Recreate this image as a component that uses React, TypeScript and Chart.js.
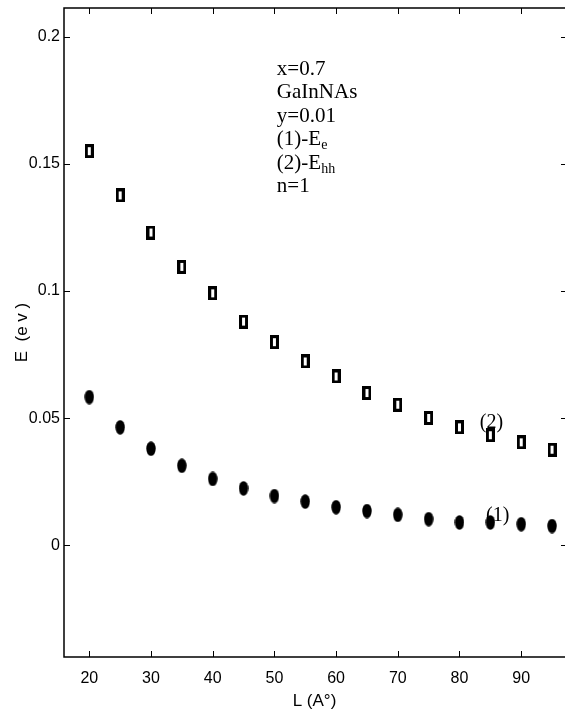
import { useEffect, useRef } from "react";
import { Chart, registerables } from "chart.js";

Chart.register(...registerables);

// ---- data ----
const L_VALUES = [20, 25, 30, 35, 40, 45, 50, 55, 60, 65, 70, 75, 80, 85, 90, 95];
const E_HH = [0.155, 0.1376, 0.123, 0.1095, 0.0991, 0.088, 0.0799, 0.0723, 0.0664, 0.0599, 0.0553, 0.0501, 0.0464, 0.0433, 0.0405, 0.0376];
const E_E = [0.0583, 0.0464, 0.038, 0.0313, 0.0261, 0.0224, 0.0194, 0.0172, 0.015, 0.0135, 0.012, 0.0103, 0.009, 0.009, 0.0083, 0.0076];
const X_TICKS = [20, 30, 40, 50, 60, 70, 80, 90];
const Y_TICKS = [0, 0.05, 0.1, 0.15, 0.2];
const Y_TICK_LABELS = ["0", "0.05", "0.1", "0.15", "0.2"];
const X_MIN = 15.9;
const X_MAX = 97.1;
const Y_MIN = -0.0439;
const Y_MAX = 0.2113;
const X_TITLE = "L (A°)";
const Y_TITLE = "E  (e v )";
const INFO_LINES: [string, string][] = [
  ["x=0.7", ""],
  ["GaInNAs", ""],
  ["y=0.01", ""],
  ["(1)-E", "e"],
  ["(2)-E", "hh"],
  ["n=1", ""],
];
const INFO_ANCHOR = { x: 50.4, y: 0.185 };
const CURVE_LABELS = [
  { text: "(2)", x: 83.3, y: 0.0462 },
  { text: "(1)", x: 84.3, y: 0.0096 },
];

const SANS = '"Liberation Sans", Arial, sans-serif';
const SERIF = '"Liberation Serif", "Times New Roman", serif';

function makeRectMarker(): HTMLCanvasElement {
  const c = document.createElement("canvas");
  c.width = 9;
  c.height = 14;
  const g = c.getContext("2d")!;
  g.fillStyle = "#000";
  g.fillRect(0, 0, 9, 14);
  g.fillStyle = "#fff";
  g.fillRect(3, 3, 3, 8);
  return c;
}

function makeEllipseMarker(): HTMLCanvasElement {
  const c = document.createElement("canvas");
  c.width = 10;
  c.height = 15;
  const g = c.getContext("2d")!;
  g.fillStyle = "#000";
  g.beginPath();
  g.ellipse(5, 7.5, 4.7, 7.3, 0, 0, Math.PI * 2);
  g.fill();
  return c;
}

const framePlugin = {
  id: "frameTicks",
  afterDraw(chart: any) {
    const { ctx, chartArea, scales } = chart;
    const { left, top, right, bottom } = chartArea;
    const xs = scales.x;
    const ys = scales.y;
    ctx.save();
    ctx.strokeStyle = "#000";
    ctx.lineWidth = 1.5;
    ctx.beginPath();
    ctx.moveTo(right, top);
    ctx.lineTo(left, top);
    ctx.lineTo(left, bottom);
    ctx.lineTo(right, bottom);
    ctx.stroke();
    ctx.lineWidth = 1;
    const tl = 6;
    ctx.beginPath();
    xs.ticks.forEach((t: any) => {
      const px = Math.round(xs.getPixelForValue(t.value)) + 0.5;
      ctx.moveTo(px, bottom);
      ctx.lineTo(px, bottom - tl);
      ctx.moveTo(px, top);
      ctx.lineTo(px, top + tl);
    });
    ys.ticks.forEach((t: any) => {
      const py = Math.round(ys.getPixelForValue(t.value)) + 0.5;
      ctx.moveTo(left, py);
      ctx.lineTo(left + tl, py);
      ctx.moveTo(right, py);
      ctx.lineTo(right - 4, py);
    });
    ctx.stroke();

    // info text
    ctx.fillStyle = "#000";
    ctx.textBaseline = "alphabetic";
    ctx.textAlign = "left";
    const ax = xs.getPixelForValue(INFO_ANCHOR.x);
    const ay = ys.getPixelForValue(INFO_ANCHOR.y);
    INFO_LINES.forEach(([main, sub], i) => {
      const by = ay + i * 23.5;
      ctx.font = `21px ${SERIF}`;
      ctx.fillText(main, ax, by);
      if (sub) {
        const w = ctx.measureText(main).width;
        ctx.font = `14px ${SERIF}`;
        ctx.fillText(sub, ax + w, by + 4);
      }
    });
    ctx.font = `20px ${SERIF}`;
    CURVE_LABELS.forEach((l) => {
      ctx.fillText(l.text, xs.getPixelForValue(l.x), ys.getPixelForValue(l.y));
    });
    ctx.restore();
  },
};

export default function App() {
  const ref = useRef<HTMLCanvasElement | null>(null);
  useEffect(() => {
    if (!ref.current) return;
    const chart = new Chart(ref.current, {
      type: "scatter",
      data: {
        datasets: [
          {
            label: "Ehh",
            data: L_VALUES.map((x, i) => ({ x, y: E_HH[i] })),
            pointStyle: makeRectMarker() as any,
            pointRadius: 7,
          },
          {
            label: "Ee",
            data: L_VALUES.map((x, i) => ({ x, y: E_E[i] })),
            pointStyle: makeEllipseMarker() as any,
            pointRadius: 7,
          },
        ],
      },
      options: {
        responsive: false,
        animation: false,
        layout: { autoPadding: false, padding: { top: 8, right: 0, left: 0, bottom: 0 } },
        plugins: {
          legend: { display: false },
          tooltip: { enabled: false },
        },
        scales: {
          x: {
            type: "linear",
            min: X_MIN,
            max: X_MAX,
            grid: { display: false, drawTicks: false },
            border: { display: false },
            afterBuildTicks: (s: any) => {
              s.ticks = X_TICKS.map((v) => ({ value: v }));
            },
            afterFit: (s: any) => {
              s.height = 68;
              s.paddingLeft = 0;
              s.paddingRight = 0;
            },
            ticks: {
              padding: 12,
              color: "#000",
              font: { family: SANS, size: 16 },
              maxRotation: 0,
              autoSkip: false,
              callback: (v: any) => String(v),
            },
            title: {
              display: true,
              text: X_TITLE,
              color: "#000",
              font: { family: SANS, size: 17 },
              padding: { top: 0, bottom: 13 },
            },
          },
          y: {
            type: "linear",
            min: Y_MIN,
            max: Y_MAX,
            grid: { display: false, drawTicks: false },
            border: { display: false },
            afterBuildTicks: (s: any) => {
              s.ticks = Y_TICKS.map((v) => ({ value: v }));
            },
            afterFit: (s: any) => {
              s.width = 64;
              s.paddingTop = 0;
              s.paddingBottom = 0;
            },
            ticks: {
              padding: 4,
              color: "#000",
              font: { family: SANS, size: 16 },
              autoSkip: false,
              callback: (v: any) => {
                const i = Y_TICKS.findIndex((t) => Math.abs(t - v) < 1e-9);
                return i >= 0 ? Y_TICK_LABELS[i] : "";
              },
            },
            title: {
              display: true,
              text: Y_TITLE,
              color: "#000",
              font: { family: SANS, size: 17 },
              padding: { top: 12, bottom: 0 },
            },
          },
        },
      },
      plugins: [framePlugin],
    });
    return () => chart.destroy();
  }, []);
  return (
    <div style={{ position: "fixed", left: 0, top: 0, width: 565, height: 725, background: "#fff" }}>
      <canvas ref={ref} width={565} height={725} />
    </div>
  );
}
